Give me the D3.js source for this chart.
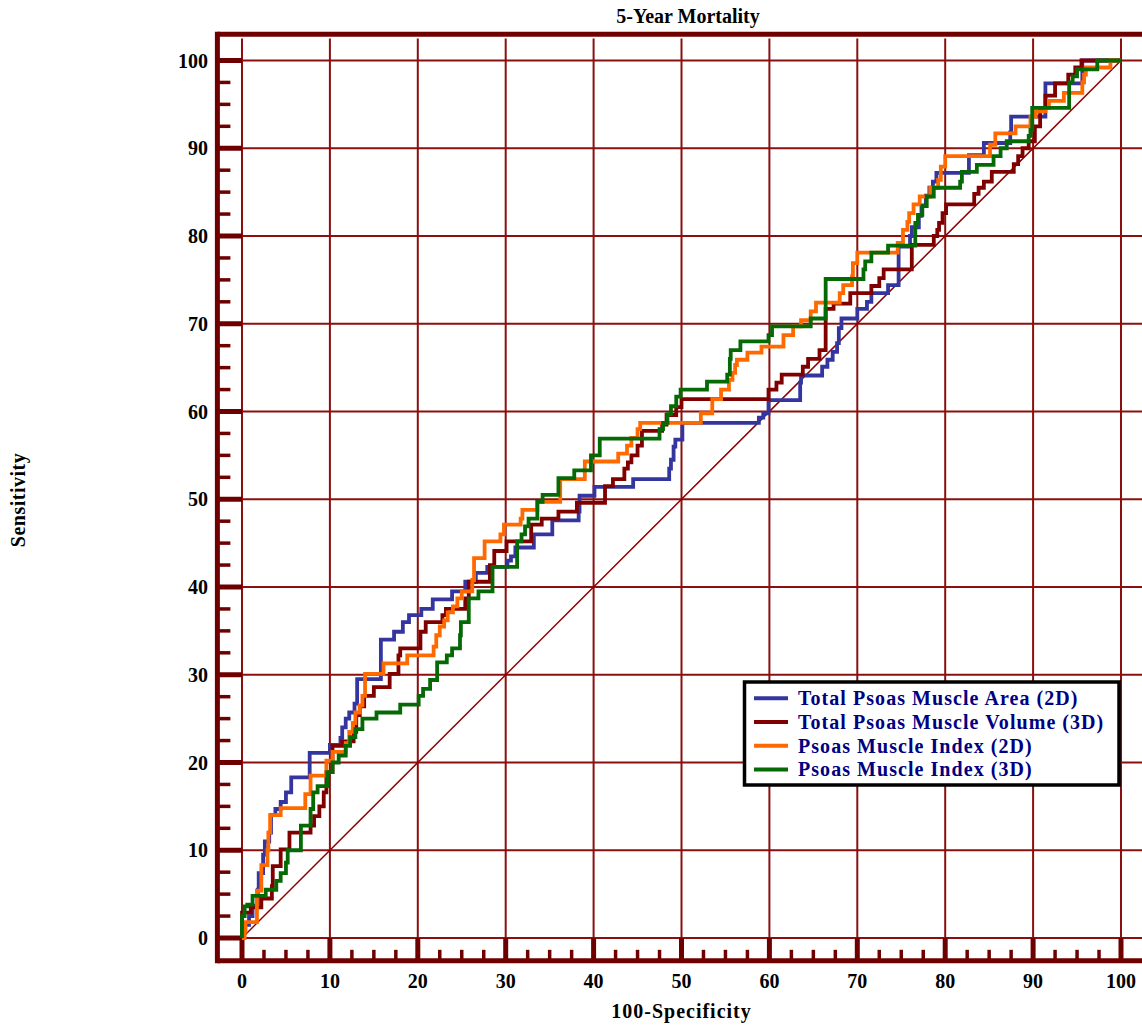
<!DOCTYPE html>
<html>
<head>
<meta charset="utf-8">
<script src="https://cdn.jsdelivr.net/npm/d3@7"></script>
<style>
  body { margin: 0; background: #fff; }
  text { font-family: "Liberation Serif", "Times New Roman", serif; font-weight: bold; }
</style>
</head>
<body>
<script>
// ROC curves, points are [100-specificity, sensitivity] where the curve steps up
var areaPts = [[0,0],[0,1.5],[0.8,2.5],[1.2,3.7],[1.8,5.5],[1.9,7.4],[2.4,9.5],[2.6,11],[3.1,12],[3.3,14],[3.8,14.7],[4.4,15.5],[5,16.6],[5.6,18.3],[7.7,21.1],[10,22],[11.2,22.8],[11.4,24],[11.8,25],[12.2,25.7],[12.8,26.7],[13.1,29.5],[15.8,34],[17.3,34.9],[18.3,36],[19,36.8],[20.4,37.5],[21.7,38.6],[23.9,39.5],[25.4,40.6],[26.6,41.6],[27.9,42.3],[30.2,43],[30.6,43.5],[31.1,44.5],[33.2,46],[35.3,47.6],[38.3,48.6],[38.4,50.4],[40.1,51.4],[44.5,52.3],[48.6,53.5],[48.8,54.5],[49.1,56],[49.3,56.8],[50.1,58.7],[58.8,59.3],[59.3,59.8],[59.9,61.3],[63.5,63.3],[63.6,64.1],[66,65.1],[66.6,65.9],[67.2,66.8],[67.7,67.8],[67.9,69.5],[68.2,70.6],[70,71.7],[71.1,72.5],[71.6,73.5],[73.5,74.4],[74.7,78.8],[76,80],[76.2,81],[77,82.3],[77.3,83.5],[77.8,84.6],[78.2,85.5],[78.6,86.2],[79,87.2],[82.7,89.2],[84.4,90.6],[87.4,91.8],[87.5,93.6],[91.4,97.4],[95.6,100],[100,100]];

var volumePts = [[0,0],[0,2.9],[1,3.5],[2.2,4.5],[3.4,5.9],[3.5,8.2],[4.4,10.1],[5.4,12],[7.8,12.8],[8.2,13.9],[8.8,15],[9.3,16.6],[9.6,18.9],[10.3,21.9],[11.4,22.4],[12.7,23.5],[13,25.4],[13.4,26.4],[13.9,27.6],[15,28.6],[16.8,30.1],[17.8,32.2],[18,33],[20.3,34.9],[20.9,36],[22.8,36.8],[23.2,37.5],[25.4,38.7],[25.8,40.6],[28.2,42.5],[28.7,44.1],[30.1,45.2],[32.9,47.1],[34.1,47.8],[36,48.6],[38.1,49.6],[41.3,51.5],[42.2,52.3],[43.5,53.5],[43.9,54.2],[44.3,55],[45,56.1],[45.5,57.8],[47.8,58.5],[48.3,59.6],[49.4,60.5],[50,61.4],[59.9,62.5],[60.8,63.3],[61.4,64.2],[63.8,65.1],[64.4,66],[65.7,67],[66.4,71.7],[67.3,72.3],[69.2,73.5],[71.6,74.3],[72.5,75.2],[73,76.2],[76.2,79],[78.7,80],[79.1,80.7],[79.3,81.5],[79.7,82.6],[80.1,83.6],[83.3,84.8],[83.8,85.5],[84.4,86.2],[85.3,87.3],[87.8,88.2],[88.3,89.1],[88.8,90],[89.5,90.8],[90.2,92.5],[90.8,94.6],[91.4,96],[92.5,97.4],[94,98.4],[94.8,99.2],[95.5,100],[100,100]];

var index2dPts = [[0,0],[0.3,0.8],[0.4,1.8],[1.7,5.4],[2.2,8.3],[2.9,10],[3,12],[3.2,14],[4.4,14.8],[7.2,16.4],[7.8,18.5],[9.6,20.2],[10.3,21.2],[11.8,22.2],[12.2,23.5],[12.6,24.5],[12.9,25.7],[13.4,26.5],[13.7,27.6],[14,30.1],[16.1,31.3],[18.8,32.2],[21.8,33.2],[22.1,34.5],[22.5,35.5],[23,36.2],[23.4,37.1],[24,37.8],[24.5,38.7],[25,39.5],[26.2,40.8],[26.4,43.3],[27.6,45.2],[29.4,46],[29.8,47.1],[31.7,47.8],[31.9,48.8],[33.6,49.7],[36.2,52.3],[39,54.3],[42.8,55.2],[43.8,56.1],[44.3,57],[45,58],[45.3,58.7],[52.2,59.8],[53.5,61.4],[54.5,62.5],[55.4,63.6],[55.8,64.4],[56.1,65.3],[56.3,65.9],[57.5,66.7],[59.1,67.4],[61.6,68.7],[62.7,69.7],[63.6,70.4],[64.7,71.4],[65.3,72.4],[68,73.5],[68.4,74.4],[69.4,75.4],[69.5,76.9],[70,78.1],[74.6,79.2],[75.2,80.7],[75.7,81.6],[75.9,82.6],[76.4,83.6],[77.1,84.5],[78.3,85.5],[79.2,86.4],[79.5,87.9],[80,89.1],[85.1,90.4],[85.7,91.7],[88,92.5],[89.7,93.6],[90.3,94.2],[91.4,94.6],[91.8,95.4],[93.5,96.3],[95.6,97.5],[95.8,98.4],[96,99.2],[98.8,100],[100,100]];

var index3dPts = [[0,0],[0,2.5],[0.3,3.6],[0.6,3.8],[1.2,4.8],[2.7,5.5],[3.9,6.5],[4.4,7.4],[5,8.6],[5.2,10],[6.7,12.8],[7.8,14.7],[8.1,16.6],[8.6,17.3],[9.7,18.9],[10.3,20],[11,20.8],[11.8,21.9],[12.3,22.9],[12.9,23.8],[13.7,25],[15.3,25.7],[18,26.6],[20.1,27.6],[20.6,28.4],[21.4,29.4],[22.2,31.4],[23.3,32.2],[23.9,33],[24.8,34.5],[24.9,36],[25.8,38.7],[26.9,39.5],[28.5,42.3],[31.3,45.2],[31.8,46],[32.2,46.9],[32.6,47.8],[33.6,49.7],[34.2,50.5],[36,52.4],[37.8,53.3],[39.7,55],[40.7,56.9],[47.5,58],[47.9,58.7],[48.4,59.7],[48.8,60.6],[49.4,61.7],[49.9,62.5],[52.9,63.4],[55.2,64.2],[55.5,66],[55.6,67],[56.7,68],[59.9,68.7],[60.3,69.7],[64.7,70.6],[66.4,75.1],[70.7,76.2],[70.9,77.1],[71.6,78.1],[73.5,78.9],[76.6,81.5],[76.9,82.4],[77.4,83.4],[77.9,84.5],[78.7,85.5],[81.7,86.2],[81.9,87.3],[83.6,88.1],[85.5,89.1],[86.3,90],[87,90.8],[89.5,91.4],[89.7,92.1],[89.9,94.6],[94.1,97.5],[94.5,98.2],[95,99],[97.3,100],[100,100]];

var seriesNames = ['Total Psoas Muscle Area (2D)', 'Total Psoas Muscle Volume (3D)', 'Psoas Muscle Index (2D)', 'Psoas Muscle Index (3D)'];
var seriesColors = ['#3535a0', '#800000', '#ff6a00', '#056a05'];
var seriesData = [areaPts, volumePts, index2dPts, index3dPts];

var xTicks = [0,10,20,30,40,50,60,70,80,90,100];
var yTicks = [0,10,20,30,40,50,60,70,80,90,100];
var minorTicks = d3.range(0, 100.01, 2.5).filter(function(d){ return d % 10 !== 0; });

var width = 1142, height = 1026;
var axisColor = '#6e0000', gridColor = '#8b0f0f';

var svg = d3.select('body').append('svg')
    .attr('width', width)
    .attr('height', height);

var x = d3.scaleLinear().domain([0, 100]).range([242, 1121]);
var y = d3.scaleLinear().domain([0, 100]).range([938, 60.5]);

// frame limits (data units)
var xLo = -2.8, xHi = 104, yLo = -2.6, yHi = 103;

//grid
svg.append('g').selectAll('line')
    .data(xTicks).enter().append('line')
    .attr('x1', function(d){ return x(d); })
    .attr('x2', function(d){ return x(d); })
    .attr('y1', y(102.5))
    .attr('y2', y(0))
    .attr('stroke', gridColor)
    .attr('stroke-width', 2);

svg.append('g').selectAll('line')
    .data(yTicks).enter().append('line')
    .attr('x1', x(0))
    .attr('x2', x(xHi))
    .attr('y1', function(d){ return y(d); })
    .attr('y2', function(d){ return y(d); })
    .attr('stroke', gridColor)
    .attr('stroke-width', 2);

//frame
svg.append('line').attr('x1', x(xLo)).attr('x2', x(xHi)).attr('y1', y(yHi)).attr('y2', y(yHi))
    .attr('stroke', axisColor).attr('stroke-width', 5);
svg.append('line').attr('x1', x(xLo)).attr('x2', x(xHi)).attr('y1', y(yLo)).attr('y2', y(yLo))
    .attr('stroke', axisColor).attr('stroke-width', 5);
svg.append('line').attr('x1', x(xLo)).attr('x2', x(xLo)).attr('y1', y(yHi) - 2.5).attr('y2', y(yLo) + 2.5)
    .attr('stroke', axisColor).attr('stroke-width', 5);

//y ticks
svg.append('g').selectAll('line')
    .data(yTicks).enter().append('line')
    .attr('x1', x(xLo)).attr('x2', x(0))
    .attr('y1', function(d){ return y(d); })
    .attr('y2', function(d){ return y(d); })
    .attr('stroke', axisColor).attr('stroke-width', 5);
svg.append('g').selectAll('line')
    .data(minorTicks).enter().append('line')
    .attr('x1', x(xLo)).attr('x2', x(xLo) + 13)
    .attr('y1', function(d){ return y(d); })
    .attr('y2', function(d){ return y(d); })
    .attr('stroke', axisColor).attr('stroke-width', 3.5);

//x ticks
svg.append('g').selectAll('line')
    .data(xTicks).enter().append('line')
    .attr('x1', function(d){ return x(d); })
    .attr('x2', function(d){ return x(d); })
    .attr('y1', y(0)).attr('y2', y(yLo))
    .attr('stroke', axisColor).attr('stroke-width', 5);
svg.append('g').selectAll('line')
    .data(minorTicks).enter().append('line')
    .attr('x1', function(d){ return x(d); })
    .attr('x2', function(d){ return x(d); })
    .attr('y1', y(yLo) - 11).attr('y2', y(yLo))
    .attr('stroke', axisColor).attr('stroke-width', 3.5);

//tick labels
svg.append('g').selectAll('text')
    .data(yTicks).enter().append('text')
    .attr('x', 208)
    .attr('y', function(d){ return y(d) + 7; })
    .attr('text-anchor', 'end')
    .style('font-size', '20px')
    .text(function(d){ return d; });

svg.append('g').selectAll('text')
    .data(xTicks).enter().append('text')
    .attr('x', function(d){ return x(d); })
    .attr('y', 988)
    .attr('text-anchor', 'middle')
    .style('font-size', '20px')
    .text(function(d){ return d; });

//titles
svg.append('text').attr('x', 688).attr('y', 23).attr('text-anchor', 'middle')
    .style('font-size', '20px').text('5-Year Mortality');
svg.append('text').attr('x', 681.5).attr('y', 1018).attr('text-anchor', 'middle')
    .style('font-size', '20px').style('letter-spacing', '1px').text('100-Specificity');
svg.append('text').attr('transform', 'translate(25,500) rotate(-90)').attr('text-anchor', 'middle')
    .style('font-size', '20px').style('letter-spacing', '0.5px').text('Sensitivity');

//reference diagonal
svg.append('line')
    .attr('x1', x(0)).attr('y1', y(0))
    .attr('x2', x(100)).attr('y2', y(100))
    .attr('stroke', '#8b0000').attr('stroke-width', 1.5);

//roc curves
var line = d3.line()
    .x(function(d){ return x(d[0]); })
    .y(function(d){ return y(d[1]); })
    .curve(d3.curveStepAfter);

seriesData.forEach(function(pts, i){
    svg.append('path')
        .datum(pts)
        .attr('d', line)
        .attr('fill', 'none')
        .attr('stroke', seriesColors[i])
        .attr('stroke-width', 3.8);
});

//legend
var legend = svg.append('g');
legend.append('rect')
    .attr('x', 744.5).attr('y', 682)
    .attr('width', 374.5).attr('height', 103)
    .attr('fill', '#fff')
    .attr('stroke', '#000')
    .attr('stroke-width', 3.5);

var rows = legend.selectAll('.row')
    .data(seriesNames).enter().append('g')
    .attr('class', 'row')
    .attr('transform', function(d, i){ return 'translate(0,' + (698.3 + i * 23.7) + ')'; });
rows.append('line')
    .attr('x1', 754).attr('x2', 788)
    .attr('stroke', function(d, i){ return seriesColors[i]; })
    .attr('stroke-width', 4);
rows.append('text')
    .attr('x', 798).attr('y', 7)
    .style('font-size', '20px')
    .style('letter-spacing', '1.05px')
    .attr('fill', '#000080')
    .text(function(d){ return d; });
</script>
</body>
</html>
